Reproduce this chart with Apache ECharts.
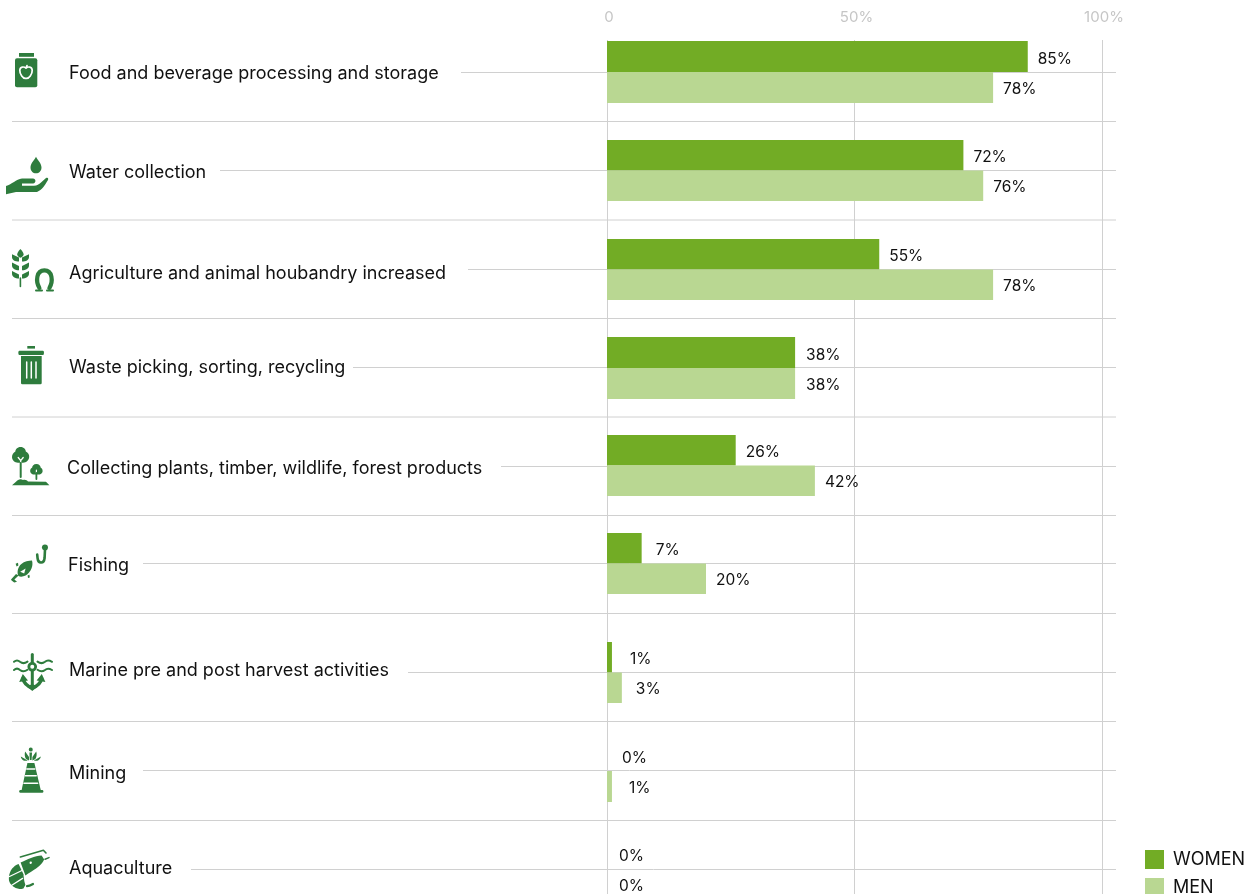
<!DOCTYPE html>
<html>
<head>
<meta charset="utf-8">
<style>html,body{margin:0;padding:0;background:#fff;overflow:hidden}#chart{width:1259px;height:894px}</style>
<script src="https://cdn.jsdelivr.net/npm/echarts@6/dist/echarts.min.js"></script>
</head>
<body>
<div id="chart"></div>
<script>
// Share of women and men taking part in each activity, in percent.
const categories = [
  'Food and beverage processing and storage',
  'Water collection',
  'Agriculture and animal houbandry increased',
  'Waste picking, sorting, recycling',
  'Collecting plants, timber, wildlife, forest products',
  'Fishing',
  'Marine pre and post harvest activities',
  'Mining',
  'Aquaculture'
];
const women = [85, 72, 55, 38, 26, 7, 1, 0, 0];
const men = [78, 76, 78, 38, 42, 20, 3, 1, 0];
const axisTicks = [0, 50, 100];

// Row layout, in page pixels.
const rowCentres = [72, 170.5, 269, 367.5, 466, 563.5, 672, 770.5, 869];
const barTops = [41, 140, 239, 337, 435, 533, 642, 740, 839];
const barSpans = [62, 61, 61, 62, 61, 61, 61, 62, 61];
const separators = [121.5, 220, 318.5, 417, 515.5, 613.5, 721.5, 820.5];
const ruleStarts = [461, 220, 468, 353, 501, 143, 408, 143, 191];
const labelLefts = [69, 69, 69, 69, 67, 68, 69, 69, 69];
const labelShifts = [1.5, 2, 4, -0.5, 3, 2, -1.5, 2.5, -0.5];
// Gap between a bar's end and its value label, [women, men] for each row.
const labelGaps = [[10, 10], [10, 10], [10, 10], [11, 11], [10, 10], [14, 10], [18, 14], [15, 17], [12, 12]];

const GREEN = '#72ac25', PALE = '#b9d792', ICON = '#2e7c3d', RULE = '#d0d0d0', INK = '#111';
const FONT = 'Inter, sans-serif';
const PLOT_LEFT = 607, PLOT_WIDTH = 495, PLOT_RIGHT_RULE = 1116;

const chart = echarts.init(document.getElementById('chart'), null, { renderer: 'canvas' });

// Pictogram pieces: each is an SVG path in page pixels, filled or stroked.
let shapeCount = 0;
function piece(d, style) {
  const name = 'iconPiece' + (shapeCount++);
  echarts.graphic.registerShape(name, echarts.graphic.extendPath(d, {}));
  return { type: name, silent: true, z: 5, style: style };
}
const fill = d => piece(d, { fill: ICON });
const knock = d => piece(d, { fill: '#fff' });
const line = (d, w) => piece(d, { fill: null, stroke: ICON, lineWidth: w, lineCap: 'round', lineJoin: 'round' });
const wline = (d, w) => piece(d, { fill: null, stroke: '#fff', lineWidth: w, lineCap: 'round', lineJoin: 'round' });

const icons = [
  // jar with an apple
  fill('M19 53H34V56.8H19Z'),
  fill('M17 58.3H35.3Q37.3 58.3 37.3 60.3V85.3Q37.3 87.3 35.3 87.3H17Q15 87.3 15 85.3V60.3Q15 58.3 17 58.3Z'),
  wline('M26 68.2C24 66.4 20 66.4 19.8 70.2C19.6 74 23 79 26 78.4C29 79 32.4 74 32.2 70.2C32 66.4 28 66.4 26 68.2ZM26 68L27 65.6', 1.7),
  // hand holding a drop
  fill('M36 156.7C37.5 160 41.5 163 41.5 167.5C41.5 171 39 173.3 36 173.3C33 173.3 30.5 171 30.5 167.5C30.5 163 34.5 160 36 156.7Z'),
  fill('M6 186C12 184.5 16 179 22 178.5L33 178.5C36 178.5 36.5 183 33 183.5L22 183.5V185.8L34 185.8C37 185.8 39 184 41 182.5L46 178C48 177 48.6 178.5 48 180C45 185 42 190 37 192L16 192L6 194.3Z'),
  // wheat ear
  fill('M20.4 249C22.4 251 23.6 253 23.6 254.5C23.6 256 21.8 257.4 20.4 257.8C19 257.4 17.2 256 17.2 254.5C17.2 253 18.4 251 20.4 249Z'),
  fill('M12 254.2L19 257.6V261.6C15 261.6 12 260 12 257ZM29 254.2L22 257.6V261.6C26 261.6 29 260 29 257Z'),
  fill('M12 262.6L19 266V270.2C15 270.2 12 268.4 12 265.4ZM29 262.6L22 266V270.2C26 270.2 29 268.4 29 265.4Z'),
  fill('M12 271L19 274.4V278.6C15 278.6 12 276.8 12 273.8ZM29 271L22 274.4V278.6C26 278.6 29 276.8 29 273.8Z'),
  line('M20.4 278V286.5', 1.6),
  // horseshoe
  line('M39.4 288C35.4 281 36.4 270.4 44.4 270.4C52.4 270.4 53.4 281 49.4 288', 4.2),
  line('M36 290.4H42M47 290.4H53', 2),
  // bin
  fill('M27.3 346H35V348.6H27.3Z'),
  fill('M19.3 350.7H43Q44 350.7 44 352.8Q44 355 43 355H19.3Q18.3 355 18.3 352.8Q18.3 350.7 19.3 350.7Z'),
  fill('M21 356H41.7V383Q41.7 384.3 40.4 384.3H22.3Q21 384.3 21 383Z'),
  wline('M26.7 362V378M31.3 362V378M36 362V378', 1.5),
  // two trees on a mound
  fill('M20.6 447C24 447 25.8 449.5 25.8 451.6C28 452.6 29.4 454.8 29.2 457C29 460 26.5 462.6 23 462.8H18C14.6 462.6 12 460 12 457C12 454.8 13.4 452.6 15.4 451.6C15.4 449.5 17.2 447 20.6 447Z'),
  wline('M18.2 457.5L20.7 460.6L23.2 457.5M20.7 460.6V464', 1.3),
  line('M20.7 463V477', 2),
  fill('M36.4 464C39.2 464 40.6 466 40.6 467.6C42 468.4 42.8 469.8 42.6 471.4C42.4 473.4 40.4 474.6 38.4 474.6H34.4C32.4 474.6 30.4 473.4 30.2 471.4C30 469.8 30.8 468.4 32.2 467.6C32.2 466 33.6 464 36.4 464Z'),
  wline('M36.4 470V473', 1.2),
  line('M36.4 473V479', 1.8),
  fill('M12 485.2L16 481.8C18 479 21 478.6 23 480C25 479.2 27 480 28 481.6L46 481.8L49.4 485.2Z'),
  // hook and fish
  line('M45 549.5L44.6 558C44 563.8 38.2 564.2 37.6 558.4L37.2 554.6', 2.6),
  fill('M45 544.4A3 3 0 1 1 44.9 550.4A3 3 0 1 1 45 544.4Z'),
  fill('M32 560.6C33.6 566 31 572.4 25.6 575.6C22.8 576.8 20.4 577 18.4 576C16.6 572.4 18 566.6 21.4 564C24.4 561.6 28.6 560.6 32 560.6Z'),
  knock('M20.2 571.8L25.6 568.6L24.2 573.6Z'),
  fill('M18.6 575.6L14.4 579.6L17 581.8L14.2 582.4L11.6 580.6L11 579.6L16 574Z'),
  fill('M15.6 563.8L18 562.8L18.4 565.4L16.6 566.4ZM27.6 575.4L29.4 574.8L29.8 577.4L28 578Z'),
  // anchor between waves
  line('M14 661.8C16 660 18 660 20 661.8C22 663.4 25 663.4 27.5 661.6M14 670C16 668.2 18 668.2 20 670C22 671.6 25 671.6 27.5 669.8M37.5 661.6C40 663.4 43 663.4 45 661.8C47 660 49 660 52 661.8M37.5 669.8C40 671.6 43 671.6 45 670C47 668.2 49 668.2 52 670', 2),
  line('M32.3 654.5V686', 3),
  fill('M32.3 662A4.8 4.8 0 1 1 32.2 671.6A4.8 4.8 0 1 1 32.3 662Z'),
  knock('M32.3 664.8A2 2 0 1 1 32.2 668.8A2 2 0 1 1 32.3 664.8Z'),
  line('M23 678.5C24 684 28 686.4 32.3 688C36.6 686.4 40.6 684 41.6 678.5', 3.6),
  fill('M19.2 682L22.8 674L28 680.6ZM36.6 680.6L41.8 674L45.4 682Z'),
  fill('M27 686.5L32.3 691L37.6 686.5L32.3 684Z'),
  // oil derrick with a spray
  fill('M30.8 747.6A2 2 0 1 1 30.7 751.6A2 2 0 1 1 30.8 747.6Z'),
  fill('M29.4 752.6H32L31.6 760H29.8Z'),
  fill('M25.2 751.4L29 757L29 760.4L26 759C24.6 757 24.4 753.4 25.2 751.4ZM36.2 751.4L32.4 757L32.4 760.4L35.4 759C36.8 757 37 753.4 36.2 751.4Z'),
  fill('M20.8 756.4L27.6 760.4L27.4 760.8C24 761 21.4 760 20.8 756.4ZM40.8 756.4L34 760.4L34.2 760.8C37.6 761 40.2 760 40.8 756.4Z'),
  fill('M27.4 763H34.4L40.8 790.3H21.6Z'),
  fill('M20.4 790H42.2Q43.4 790 43.4 791.4Q43.4 792.7 42.2 792.7H20.4Q19.2 792.7 19.2 791.4Q19.2 790 20.4 790Z'),
  wline('M26.8 769H34.8M25.4 775.8H36.2M24 783.2H37.6', 1.6),
  // shrimp
  line('M20.4 857L43.4 850.2L46 853', 1.6),
  line('M45 859.2L49 857.6', 1.5),
  fill('M20.6 862.6C27 859 35 856 41.6 855.4L44.2 859.6C42 864.6 37 868 33 870.6C30 872.6 27 874.4 25.4 875.6Z'),
  knock('M30.8 861.6A1.2 1.2 0 1 1 30.7 864A1.2 1.2 0 1 1 30.8 861.6Z'),
  fill('M18.6 864C13.4 865.8 9.8 870.4 9 876.4C8.8 878 8.8 879.4 9 880.6C10 884.6 14 888.4 19.6 889C20.8 889 22 888.8 23.4 888.4L25.4 885C24 881 23.4 875 23.6 874.6Z'),
  wline('M9.5 876.5L22 870.5M11.8 885.2L22.6 878.4', 1.3),
  line('M27 886.2C29 886.2 31 885.2 33 884', 2.2)
];

// Horizontal rules between and through the rows.
const rule = (x1, y, x2) => ({
  type: 'line', silent: true, z: 0,
  shape: { x1: x1, y1: y, x2: x2, y2: y },
  style: { stroke: RULE, lineWidth: 1 }
});
const rules = separators.map(y => rule(12, y, PLOT_RIGHT_RULE))
  .concat(rowCentres.map((y, i) => rule(ruleStarts[i], Math.floor(y) + 0.5, PLOT_RIGHT_RULE)));

// One grid per row; the first grid carries the shared percent axis.
const grids = [{ left: PLOT_LEFT, width: PLOT_WIDTH, top: 40, height: 860, outerBoundsMode: 'none' }];
const xAxes = [{
  gridIndex: 0, type: 'value', position: 'top', min: 0, max: 100, interval: 50,
  axisLine: { show: false }, axisTick: { show: false },
  splitLine: { show: true, lineStyle: { color: RULE, width: 1 } },
  axisLabel: {
    margin: 15, color: '#c6c6c6', fontFamily: FONT, fontSize: 15, padding: [0, 0, 0, 4],
    formatter: v => axisTicks.indexOf(v) === 0 ? '0' : v + '%'
  }
}];
const yAxes = [{ gridIndex: 0, type: 'category', data: [''], show: false }];
const series = [{
  name: 'axis', type: 'bar', xAxisIndex: 0, yAxisIndex: 0, data: [null], silent: true
}];

const valueLabel = {
  show: true, position: 'right', color: INK, fontFamily: FONT, fontSize: 15.5,
  formatter: p => p.value + '%'
};
const labelled = (v, gap, dy) => ({ value: v, label: { distance: gap, offset: [0, dy] } });

categories.forEach((name, i) => {
  const g = i + 1;
  grids.push({
    left: PLOT_LEFT, width: PLOT_WIDTH, top: barTops[i], height: barSpans[i], outerBoundsMode: 'none'
  });
  xAxes.push({ gridIndex: g, type: 'value', min: 0, max: 100, show: false });
  const shift = labelShifts[i];
  yAxes.push({
    gridIndex: g, type: 'category', inverse: true, data: [name],
    axisLine: { show: false }, axisTick: { show: false }, splitLine: { show: false },
    axisLabel: {
      align: 'left', margin: PLOT_LEFT - labelLefts[i],
      formatter: '{t|{value}}',
      rich: {
        t: {
          color: INK, fontFamily: FONT, fontSize: 18,
          padding: shift > 0 ? [shift * 2, 0, 0, 0] : [0, 0, -shift * 2, 0]
        }
      }
    }
  });
  [['WOMEN', women, GREEN, 2.5, 0], ['MEN', men, PALE, 1.5, 1]].forEach(([label, values, colour, dy, side]) => {
    series.push({
      name: label, type: 'bar', xAxisIndex: g, yAxisIndex: g,
      barWidth: barSpans[i] / 2, barGap: 0, itemStyle: { color: colour },
      label: valueLabel, data: [labelled(values[i], labelGaps[i][side], dy)]
    });
  });
});

chart.setOption({
  animation: false,
  backgroundColor: '#fff',
  grid: grids,
  xAxis: xAxes,
  yAxis: yAxes,
  series: series,
  legend: {
    data: ['WOMEN', 'MEN'], orient: 'vertical', left: 1145, top: 850, height: 100, padding: 0,
    icon: 'rect', itemWidth: 19, itemHeight: 19, itemGap: 9,
    selectedMode: false,
    textStyle: { color: INK, fontFamily: FONT, fontSize: 18, padding: [1, 0, 0, 4] }
  },
  graphic: rules.concat(icons)
});
</script>
</body>
</html>
